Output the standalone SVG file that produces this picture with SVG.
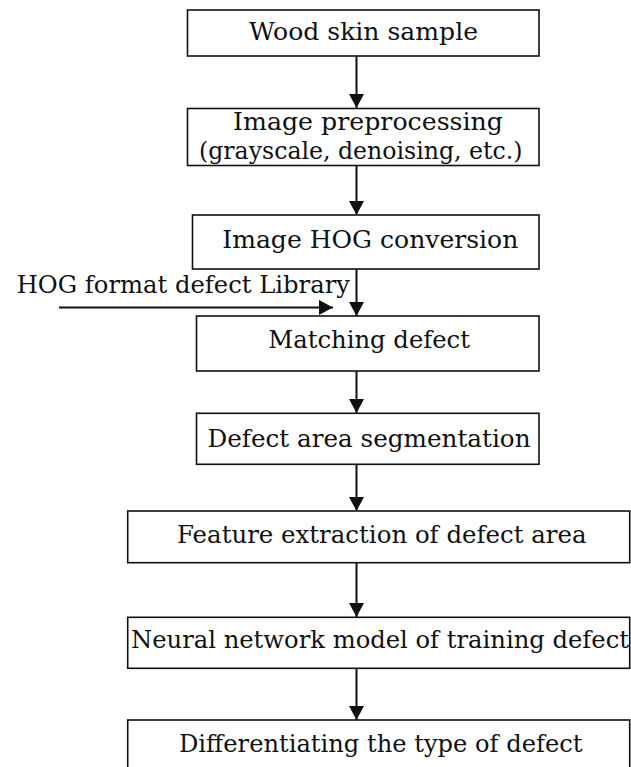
<svg xmlns="http://www.w3.org/2000/svg" width="631" height="767" viewBox="0 0 631 767">
<style>
.box{fill:#fff;stroke:#111;stroke-width:1.6}
.t{font-family:"DejaVu Serif","Liberation Serif",serif;font-size:24px;fill:#111}
.c{stroke:#111;stroke-width:2;fill:none;marker-end:url(#ah)}
</style>
<defs>
<marker id="ah" markerUnits="userSpaceOnUse" markerWidth="15" markerHeight="15" refX="14" refY="7.5" orient="auto">
<path d="M0,0 L14,7.5 L0,15 z" fill="#111"/>
</marker>
</defs>
<rect width="631" height="767" fill="#fff"/>
<g id="connectors">
<line class="c" x1="356.5" y1="56" x2="356.5" y2="108"/>
<line class="c" x1="356.5" y1="166" x2="356.5" y2="215"/>
<line class="c" x1="356.5" y1="269" x2="356.5" y2="316"/>
<line class="c" x1="59" y1="307.5" x2="333" y2="307.5"/>
<line class="c" x1="356.5" y1="371" x2="356.5" y2="413"/>
<line class="c" x1="356.5" y1="464" x2="356.5" y2="511"/>
<line class="c" x1="356.5" y1="563" x2="356.5" y2="617"/>
<line class="c" x1="356.5" y1="668" x2="356.5" y2="720"/>
</g>
<g id="n1">
<rect class="box" x="187.5" y="10" width="351.5" height="46"/>
<text class="t" x="249" y="40" textLength="229" lengthAdjust="spacingAndGlyphs">Wood skin sample</text>
</g>
<g id="n2">
<rect class="box" x="187.5" y="108.5" width="351.5" height="57"/>
<text class="t" x="233" y="129.5" textLength="270" lengthAdjust="spacingAndGlyphs">Image preprocessing</text>
<text class="t" x="199" y="159" textLength="323.5" lengthAdjust="spacingAndGlyphs">(grayscale, denoising, etc.)</text>
</g>
<g id="n3">
<rect class="box" x="192.5" y="215" width="346.5" height="54"/>
<text class="t" x="222.3" y="248.3" textLength="296" lengthAdjust="spacingAndGlyphs">Image HOG conversion</text>
</g>
<g id="lib">
<text class="t" x="16.7" y="293.3" textLength="333.3" lengthAdjust="spacingAndGlyphs">HOG format defect Library</text>
</g>
<g id="n4">
<rect class="box" x="196.5" y="316" width="342.5" height="55"/>
<text class="t" x="268.3" y="348.3" textLength="201.7" lengthAdjust="spacingAndGlyphs">Matching defect</text>
</g>
<g id="n5">
<rect class="box" x="196.5" y="413.3" width="342.5" height="51"/>
<text class="t" x="207.5" y="446.7" textLength="323" lengthAdjust="spacingAndGlyphs">Defect area segmentation</text>
</g>
<g id="n6">
<rect class="box" x="127.7" y="511" width="502" height="51.7"/>
<text class="t" x="177" y="543.3" textLength="409.5" lengthAdjust="spacingAndGlyphs">Feature extraction of defect area</text>
</g>
<g id="n7">
<rect class="box" x="127.7" y="617.3" width="502" height="51"/>
<text class="t" x="131" y="648" textLength="498" lengthAdjust="spacingAndGlyphs">Neural network model of training defect</text>
</g>
<g id="n8">
<rect class="box" x="127.7" y="720" width="502" height="52"/>
<text class="t" x="179" y="752" textLength="403.5" lengthAdjust="spacingAndGlyphs">Differentiating the type of defect</text>
</g>
</svg>
